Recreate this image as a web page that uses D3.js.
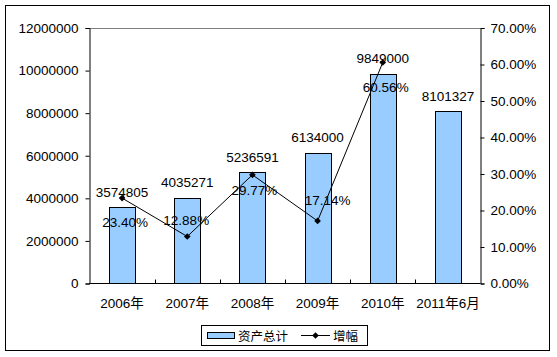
<!DOCTYPE html>
<html>
<head>
<meta charset="utf-8">
<script src="https://cdn.jsdelivr.net/npm/d3@7"></script>
<style>
  html, body { margin: 0; padding: 0; background: #fff; }
  svg { display: block; }
  text { font-family: "Liberation Sans", Arial, "Noto Sans CJK SC", sans-serif; fill: #000; }
</style>
</head>
<body>
<svg id="chart" width="557" height="357"></svg>
<script>
const categories = ["2006年", "2007年", "2008年", "2009年", "2010年", "2011年6月"];
const assets = [3574805, 4035271, 5236591, 6134000, 9849000, 8101327];
const growth = [0.2340, 0.1288, 0.2977, 0.1714, 0.6056];
const growthLabels = ["23.40%", "12.88%", "29.77%", "17.14%", "60.56%"];
const leftTicks = [0, 2000000, 4000000, 6000000, 8000000, 10000000, 12000000];
const rightTicks = [0, 0.1, 0.2, 0.3, 0.4, 0.5, 0.6, 0.7];
const seriesNames = ["资产总计", "增幅"];
// manual label nudges (Excel labels were hand-placed): [dx, dy] relative to the point
const growthLabelNudge = [[3, 24], [-1, -16], [2, 15], [10, -21], [3, 25]];

const svg = d3.select("#chart");
const W = 557, H = 357;
const plot = { left: 89.5, right: 480.5, top: 28, bottom: 283.5 };
const FS = "13.5px";

svg.append("rect").attr("width", W).attr("height", H).attr("fill", "#fff");
svg.append("rect").attr("x", 5.5).attr("y", 5.5).attr("width", 544).attr("height", 345)
  .attr("fill", "none").attr("stroke", "#000").attr("stroke-width", 1);

const x = d3.scaleBand().domain(categories).range([plot.left, plot.right])
  .paddingInner(0.6).paddingOuter(0.3);
const step = (plot.right - plot.left) / categories.length;
const cx = c => plot.left + step * (categories.indexOf(c) + 0.5);
const yL = d3.scaleLinear().domain([0, 12000000]).range([plot.bottom, plot.top]);
const yR = d3.scaleLinear().domain([0, 0.7]).range([plot.bottom, plot.top]);

// top plot border (gray)
svg.append("line").attr("x1", plot.left).attr("x2", plot.right)
  .attr("y1", plot.top + 0.5).attr("y2", plot.top + 0.5)
  .attr("stroke", "#808080").attr("stroke-width", 1);

// bars
svg.append("g").selectAll("rect").data(assets).join("rect")
  .attr("x", (d, i) => Math.round(cx(categories[i]) - x.bandwidth() / 2) + 0.5)
  .attr("y", d => Math.round(yL(d)) + 0.5)
  .attr("width", Math.round(x.bandwidth()))
  .attr("height", d => plot.bottom - Math.round(yL(d)) - 0.5)
  .attr("fill", "#99CCFF").attr("stroke", "#000").attr("stroke-width", 1);

// left axis
const gL = svg.append("g").attr("transform", `translate(${plot.left},0)`)
  .call(d3.axisLeft(yL).tickValues(leftTicks).tickSize(4).tickPadding(7).tickFormat(d3.format("d")));
gL.selectAll("text").style("font-size", FS);
gL.select(".domain").attr("stroke", "#000");

// right axis
const gR = svg.append("g").attr("transform", `translate(${plot.right},0)`)
  .call(d3.axisRight(yR).tickValues(rightTicks).tickSize(4).tickPadding(6).tickFormat(d3.format(".2%")));
gR.selectAll("text").style("font-size", FS);
gR.select(".domain").attr("stroke", "#000");

// bottom axis: labels centered, ticks at category boundaries pointing inward
const gB = svg.append("g").attr("transform", `translate(0,${plot.bottom})`);
gB.append("line").attr("x1", plot.left).attr("x2", plot.right)
  .attr("stroke", "#000").attr("stroke-width", 1);
gB.selectAll("line.tk").data(d3.range(1, categories.length)).join("line").attr("class", "tk")
  .attr("x1", i => Math.round(plot.left + step * i) + 0.5)
  .attr("x2", i => Math.round(plot.left + step * i) + 0.5)
  .attr("y1", 0).attr("y2", -4).attr("stroke", "#000");
gB.selectAll("text").data(categories).join("text")
  .attr("x", d => cx(d)).attr("y", 24)
  .attr("text-anchor", "middle").style("font-size", FS).text(d => d);

// bar value labels
svg.append("g").selectAll("text").data(assets).join("text")
  .attr("x", (d, i) => cx(categories[i]))
  .attr("y", d => yL(d) - 10.5)
  .attr("text-anchor", "middle").style("font-size", FS)
  .text(d => d3.format("d")(d));

// growth labels
svg.append("g").selectAll("text").data(growth).join("text")
  .attr("x", (d, i) => cx(categories[i]) + growthLabelNudge[i][0])
  .attr("y", (d, i) => yR(d) + growthLabelNudge[i][1] + 4.8)
  .attr("text-anchor", "middle").style("font-size", FS)
  .text((d, i) => growthLabels[i]);

// growth line
const line = d3.line().x((d, i) => cx(categories[i])).y(d => yR(d));
svg.append("path").datum(growth).attr("d", line)
  .attr("fill", "none").attr("stroke", "#000").attr("stroke-width", 1);
const diamond = d3.symbol().type(d3.symbolSquare).size(22);
svg.append("g").selectAll("path").data(growth).join("path")
  .attr("d", diamond)
  .attr("transform", (d, i) => `translate(${cx(categories[i])},${yR(d)}) rotate(45)`)
  .attr("fill", "#000");

// legend
const lg = svg.append("g");
lg.append("rect").attr("x", 201.5).attr("y", 325.5).attr("width", 166).attr("height", 20)
  .attr("fill", "#fff").attr("stroke", "#000");
lg.append("rect").attr("x", 207.5).attr("y", 332.5).attr("width", 27).attr("height", 6)
  .attr("fill", "#99CCFF").attr("stroke", "#000");
lg.append("text").attr("x", 238).attr("y", 340.5).style("font-size", "12.5px").text(seriesNames[0]);
lg.append("line").attr("x1", 301).attr("x2", 330).attr("y1", 335.5).attr("y2", 335.5)
  .attr("stroke", "#000");
lg.append("path").attr("d", diamond).attr("transform", "translate(315.5,335.5) rotate(45)").attr("fill", "#000");
lg.append("text").attr("x", 333).attr("y", 340.5).style("font-size", "12.5px").text(seriesNames[1]);
</script>
</body>
</html>
